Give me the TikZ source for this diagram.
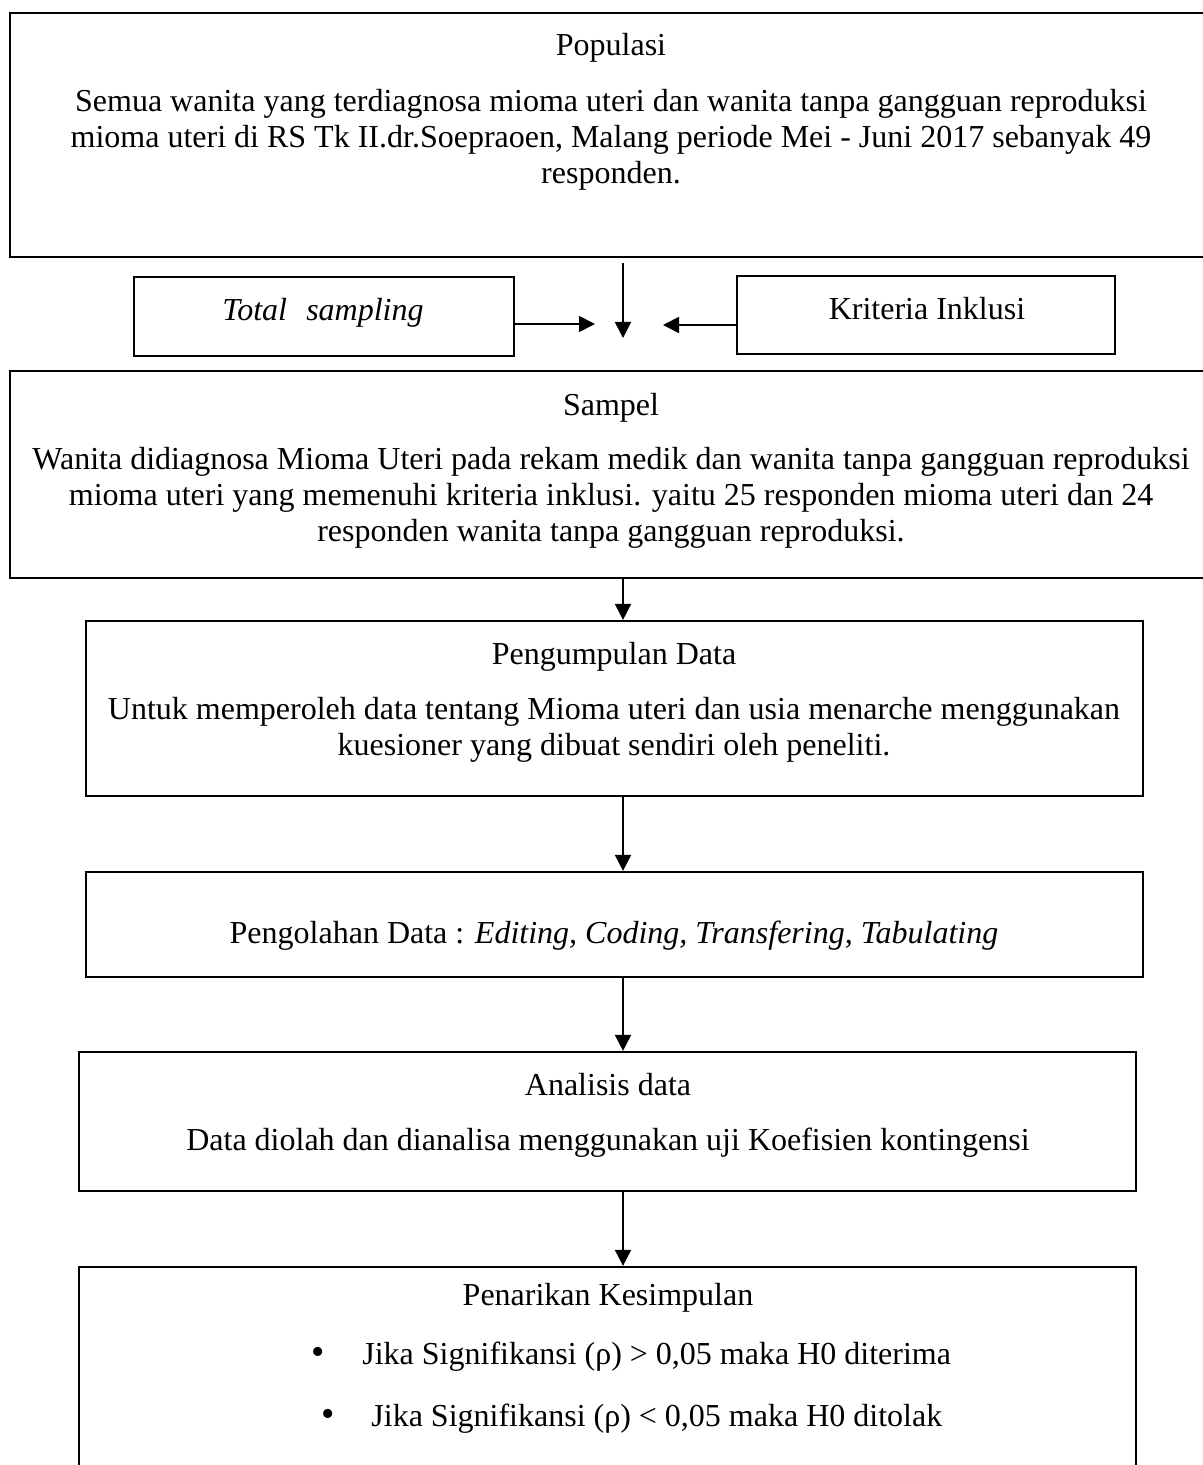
\documentclass[tikz,border=0pt]{standalone}
\usepackage{fontspec}
\setmainfont{Liberation Serif}
\usetikzlibrary{arrows.meta,fit}
\begin{document}
\begin{tikzpicture}[x=0.5pt,y=-0.5pt,
  box/.style={draw, line width=1.1pt, inner sep=0pt},
  txt/.style={font=\fontsize{16}{18}\selectfont, inner sep=0pt, align=center},
  bul/.style={font=\fontsize{19}{20}\selectfont, inner sep=0pt},
  arr/.style={line width=0.9pt, -{Triangle[length=8pt,width=8pt]}}]
\useasboundingbox (0,0) rectangle (1203,1465);
\clip (0,0) rectangle (1203,1465);
% boxes
\node[box, fit={(10,13) (1220,257)}] (pop) {};
\node[box, fit={(134,277) (514,356)}] (ts) {};
\node[box, fit={(737,276) (1115,354)}] (ki) {};
\node[box, fit={(10,371) (1220,578)}] (sam) {};
\node[box, fit={(86,621) (1143,796)}] (pgm) {};
\node[box, fit={(86,872) (1143,977)}] (pgl) {};
\node[box, fit={(79,1052) (1136,1191)}] (ana) {};
\node[box, fit={(79,1267) (1136,1490)}] (pen) {};
% texts
\node[txt] (popt) at (611,48) {Populasi};
\node[txt] (popb) at (611,140) {Semua wanita yang terdiagnosa mioma uteri dan wanita tanpa gangguan reproduksi\\
mioma uteri di RS Tk II.dr.Soepraoen, Malang periode Mei - Juni 2017 sebanyak 49\\
responden.};
\node[txt] (tst) at (323,313) {\itshape Total\hspace{0.6em}sampling};
\node[txt] (kit) at (927,309) {Kriteria Inklusi};
\node[txt] (samt) at (611,408) {Sampel};
\node[txt] (samb) at (611,498) {Wanita didiagnosa Mioma Uteri pada rekam medik dan wanita tanpa gangguan reproduksi\\
mioma uteri yang memenuhi kriteria inklusi. yaitu 25 responden mioma uteri dan 24\\
responden wanita tanpa gangguan reproduksi.};
\node[txt] (pgmt) at (614,657) {Pengumpulan Data};
\node[txt] (pgmb) at (614,730) {Untuk memperoleh data tentang Mioma uteri dan usia menarche menggunakan\\
kuesioner yang dibuat sendiri oleh peneliti.};
\node[txt] (pglt) at (614,936) {Pengolahan Data : \itshape Editing, Coding, Transfering, Tabulating};
\node[txt] (anat) at (608,1085) {Analisis data};
\node[txt] (anab) at (608,1143) {Data diolah dan dianalisa menggunakan uji Koefisien kontingensi};
\node[txt] (pent) at (608,1298) {Penarikan Kesimpulan};
\node[bul] (b1) at (318,1356) {•};
\node[txt, anchor=west] (l1) at (362,1357) {Jika Signifikansi (ρ) > 0,05 maka H0 diterima};
\node[bul] (b2) at (328,1418) {•};
\node[txt, anchor=west] (l2) at (371,1419) {Jika Signifikansi (ρ) < 0,05 maka H0 ditolak};
% connectors
\coordinate (mtip) at (623,338);
\coordinate (rtip) at (595,324);
\coordinate (ltip) at (663,325);
\coordinate (ax) at (623,0);
\draw[arr, shorten <=2.5pt] (pop.south -| mtip) -- (mtip);
\draw[arr] (ts.east |- rtip) -- (rtip);
\draw[arr] (ki.west |- ltip) -- (ltip);
\draw[arr] (sam.south -| ax) -- (pgm.north -| ax);
\draw[arr] (pgm.south -| ax) -- (pgl.north -| ax);
\draw[arr] (pgl.south -| ax) -- (ana.north -| ax);
\draw[arr] (ana.south -| ax) -- (pen.north -| ax);
\end{tikzpicture}
\end{document}
